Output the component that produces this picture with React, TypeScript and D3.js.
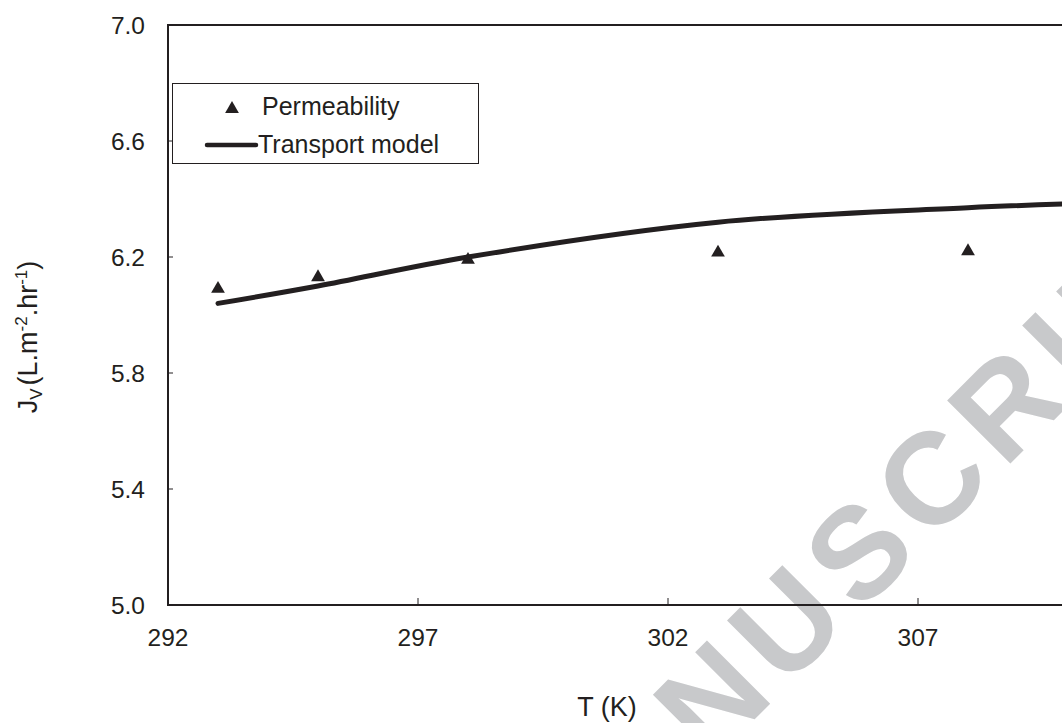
import React from "react";
import * as d3 from "d3";

// Measured permeate flux at each temperature
const expTemps = [293, 295, 298, 303, 308];
const expFlux = [6.09, 6.13, 6.19, 6.215, 6.22];

// Transport model prediction
const modelTemps = [293, 295, 298, 303, 308, 313];
const modelFlux = [6.04, 6.1, 6.2, 6.32, 6.37, 6.4];

const xTicks = [292, 297, 302, 307, 312];
const yTicks = [5.0, 5.4, 5.8, 6.2, 6.6, 7.0];

const W = 1062;
const H = 723;
const INK = "#231f20";
const FONT = "'Liberation Sans', Arial, Helvetica, sans-serif";

export default function App() {
  const x = d3.scaleLinear().domain([292, 312]).range([168, 1168]);
  const y = d3.scaleLinear().domain([5, 7]).range([605, 25]);

  const modelPts = modelTemps.map((t, i) => [t, modelFlux[i]] as [number, number]);
  const line = d3
    .line<[number, number]>()
    .x((d) => x(d[0]))
    .y((d) => y(d[1]))
    .curve(d3.curveCatmullRom.alpha(0.5));

  const tri = d3.symbol().type(d3.symbolTriangle).size(82)() as string;

  const x0 = x(292);
  const x1 = x(312);
  const yTop = y(7);
  const yBot = y(5);

  return (
    <svg
      width={W}
      height={H}
      style={{ position: "absolute", left: 0, top: 0, background: "#fff" }}
      fontFamily={FONT}
    >
      <rect x={0} y={0} width={W} height={H} fill="#fff" />

      {/* watermark */}
      <g transform="translate(890,584) rotate(-45)">
        <text
          x={-1340}
          y={0}
          fontSize={130}
          fontWeight="bold"
          letterSpacing={12}
          fill="#c8c9cb"
        >
          ACCEPTED MANUSCRIPT
        </text>
      </g>

      {/* model curve */}
      <path
        d={line(modelPts) || ""}
        fill="none"
        stroke={INK}
        strokeWidth={5}
        strokeLinecap="round"
      />

      {/* experimental points */}
      {expTemps.map((t, i) => (
        <path
          key={t}
          d={tri}
          transform={`translate(${x(t)},${y(expFlux[i])})`}
          fill={INK}
        />
      ))}

      {/* plot frame */}
      <g stroke={INK} strokeWidth={2} fill="none">
        <line x1={x0} y1={yTop} x2={x1} y2={yTop} />
        <line x1={x0} y1={yBot} x2={x1} y2={yBot} />
        <line x1={x0} y1={yTop - 1} x2={x0} y2={yBot + 1} />
        <line x1={x1} y1={yTop} x2={x1} y2={yBot} />
      </g>

      {/* x ticks and labels */}
      {xTicks.map((t) => (
        <g key={t}>
          <line x1={x(t)} x2={x(t)} y1={yBot} y2={yBot - 7} stroke={INK} strokeWidth={1} />
          <text x={x(t)} y={yBot + 41} fontSize={24.5} textAnchor="middle" fill={INK}>
            {t}
          </text>
        </g>
      ))}

      {/* y ticks and labels */}
      {yTicks.map((v) => (
        <g key={v}>
          <line x1={x0} x2={x0 + 5} y1={y(v)} y2={y(v)} stroke={INK} strokeWidth={1} />
          <text
            x={145}
            y={y(v)}
            dy="0.35em"
            fontSize={24.5}
            textAnchor="end"
            fill={INK}
          >
            {v.toFixed(1)}
          </text>
        </g>
      ))}

      {/* axis titles */}
      <text x={607} y={716} fontSize={27} textAnchor="middle" fill={INK}>
        T (K)
      </text>
      <g transform="translate(37,337) rotate(-90)">
        <text x={0} y={0} fontSize={27} textAnchor="middle" fill={INK}>
          J
          <tspan fontSize={17} dy={5}>V</tspan>
          <tspan dy={-5} dx={3}>(L.m</tspan>
          <tspan fontSize={17} dy={-10}>-2</tspan>
          <tspan dy={10}>.hr</tspan>
          <tspan fontSize={17} dy={-10}>-1</tspan>
          <tspan dy={10}>)</tspan>
        </text>
      </g>

      {/* legend */}
      <rect x={172.5} y={83.5} width={306} height={80} fill="#fff" stroke={INK} strokeWidth={1} />
      <path d={tri} transform="translate(232,109)" fill={INK} />
      <text x={262} y={115} fontSize={25} fill={INK}>
        Permeability
      </text>
      <line x1={207} x2={256} y1={145} y2={145} stroke={INK} strokeWidth={4.5} strokeLinecap="round" />
      <text x={258} y={153} fontSize={25} fill={INK}>
        Transport model
      </text>
    </svg>
  );
}
